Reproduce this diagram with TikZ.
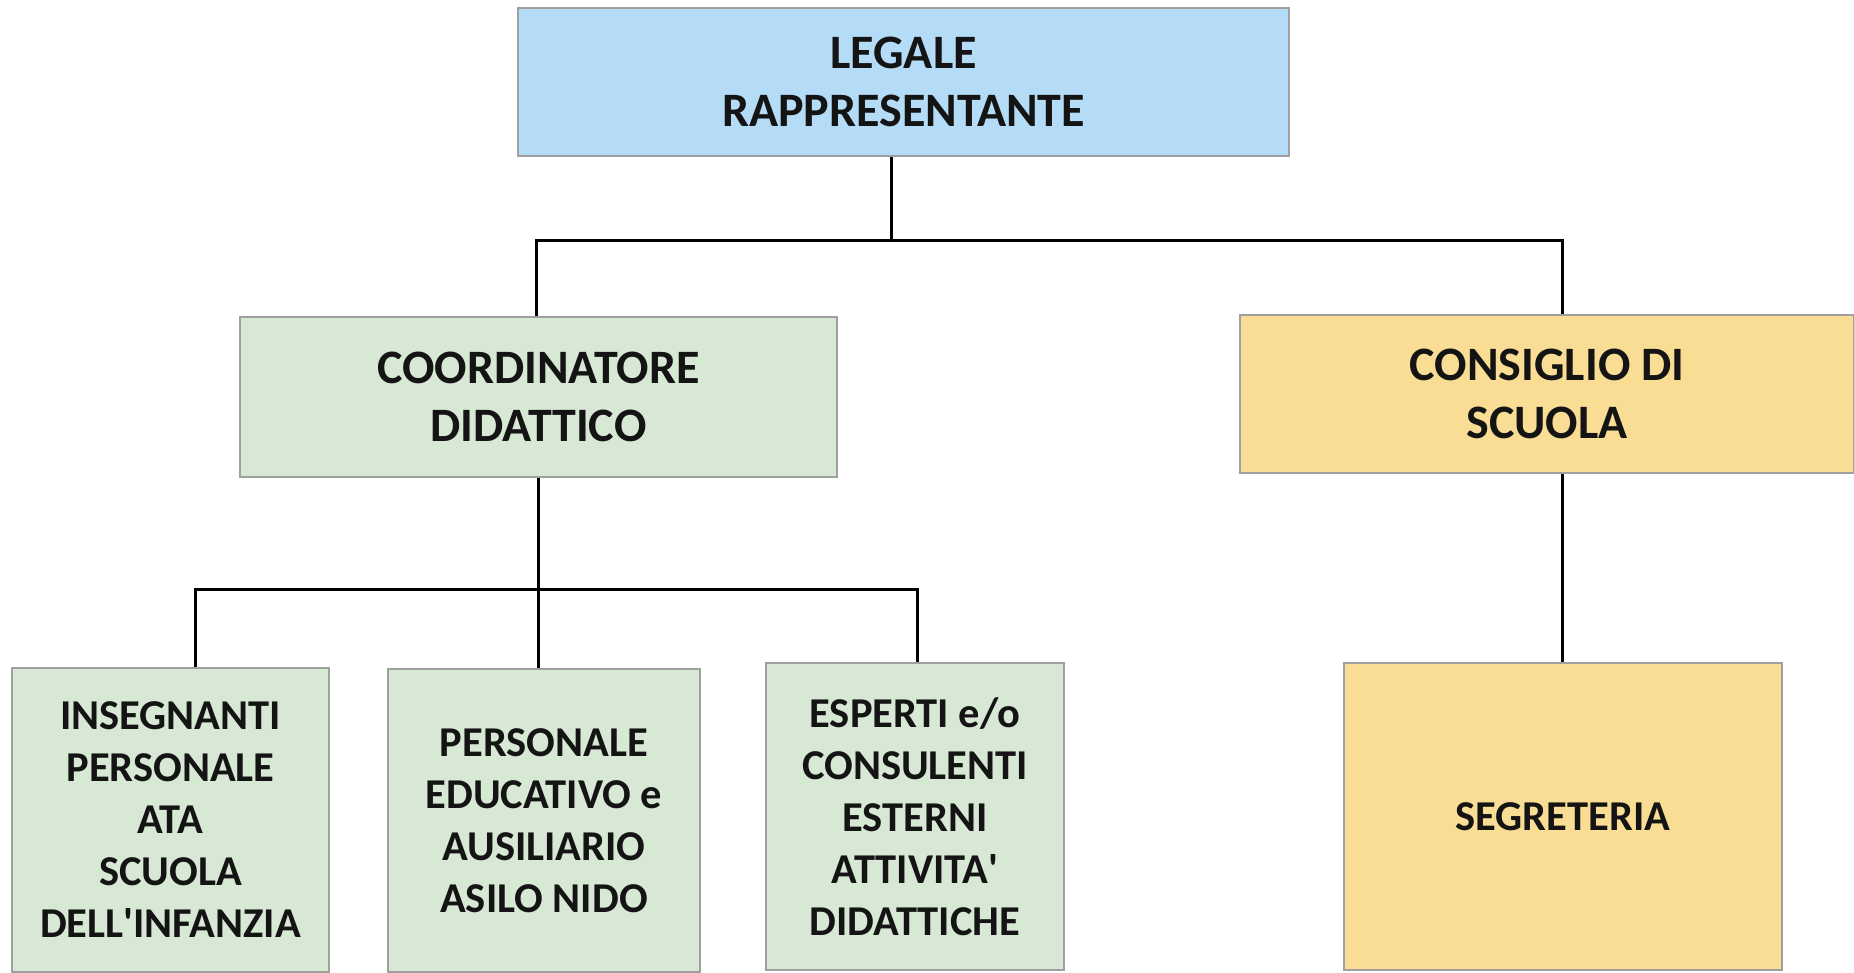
\documentclass[tikz,border=0pt]{standalone}
\usepackage{fontspec}
\setmainfont{Carlito}
\definecolor{blueF}{RGB}{180,220,247}
\definecolor{greenF}{RGB}{215,233,212}
\definecolor{yellowF}{RGB}{249,221,148}
\definecolor{edgeC}{RGB}{160,160,160}
\tikzset{
  box/.style={draw=edgeC, line width=1.2pt, inner sep=0pt, align=center, text=black!92},
  bigtxt/.style={font=\fontsize{48}{58}\selectfont\bfseries},
  smalltxt/.style={font=\fontsize{42.5}{52}\selectfont\bfseries},
  link/.style={draw=black, line width=3pt}
}
\begin{document}
\begin{tikzpicture}[x=1pt,y=-1pt]
\useasboundingbox (0,0) rectangle (1854,972);
\fill[white] (0,0) rectangle (1854,972);
\node[box, bigtxt, fill=blueF, minimum width=771pt, minimum height=148pt] (top) at (903.5,82) {LEGALE\\RAPPRESENTANTE};
\node[box, bigtxt, fill=greenF, minimum width=597pt, minimum height=160pt] (coord) at (538.5,397) {COORDINATORE\\DIDATTICO};
\node[box, bigtxt, fill=yellowF, minimum width=614pt, minimum height=158pt] (cons) at (1547,394) {CONSIGLIO DI\\SCUOLA};
\node[box, smalltxt, fill=greenF, minimum width=317pt, minimum height=304pt] (ins) at (170.5,820) {INSEGNANTI\\PERSONALE\\ATA\\SCUOLA\\DELL\textquotesingle INFANZIA};
\node[box, smalltxt, fill=greenF, minimum width=312pt, minimum height=303pt] (pers) at (544,820.5) {PERSONALE\\EDUCATIVO e\\AUSILIARIO\\ASILO NIDO};
\node[box, smalltxt, fill=greenF, minimum width=298pt, minimum height=307pt] (esp) at (915,816.5) {ESPERTI e/o\\CONSULENTI\\ESTERNI\\ATTIVITA\textquotesingle\\DIDATTICHE};
\node[box, smalltxt, fill=yellowF, minimum width=438pt, minimum height=307pt] (seg) at (1563,816.5) {SEGRETERIA};
\coordinate (j1) at (891,240);
\coordinate (tL) at (536,240);
\coordinate (tR) at (1562,240);
\coordinate (bL) at (195,589);
\coordinate (bR) at (917,589);
\draw[link] (top.south -| j1) -- (j1);
\draw[link] (coord.north -| tL) -- (tL) -- (tR) -- (tR |- cons.north);
\draw[link] (coord.south) -- (coord.south |- pers.north);
\draw[link] (bL |- ins.north) -- (bL) -- (bR) -- (bR |- esp.north);
\draw[link] (cons.south -| tR) -- (seg.north -| tR);
\end{tikzpicture}
\end{document}
